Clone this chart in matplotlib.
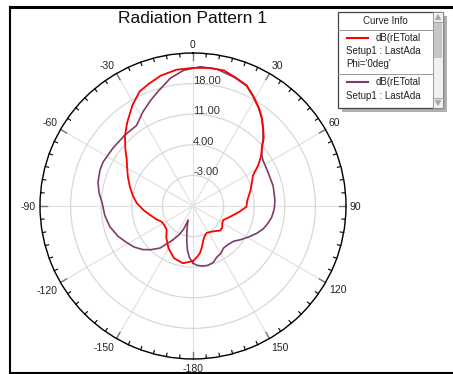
import numpy as np
import matplotlib.pyplot as plt
from matplotlib.patches import Rectangle, Polygon

plt.rcParams['font.family'] = ['Liberation Sans', 'DejaVu Sans']

# curve 1 (Phi='0deg') - angle in deg, gain in dB
red_theta = [-180, -170, -160, -150, -140, -132, -124, -117, -110, -102, -95, -87, -80, -73, -66,
             -59, -55, -50, -44, -38, -31, -25, -20, -14, -7, 0, 7, 13, 18, 24, 29, 34, 38, 42, 46,
             50, 54, 58, 63, 69, 75, 84, 91, 97, 103, 109, 115, 121, 126, 132, 138, 145, 153, 158,
             163, 168, 172, 176, 180]
red_db = [2.6, 3.3, 2.7, 1.2, -0.5, -1.9, -2.1, -2.0, -1.1, 0.0, 1.3, 2.9, 4.0, 5.1, 6.3,
          7.6, 8.5, 10.2, 12.4, 14.4, 16.9, 18.9, 19.7, 20.7, 21.4, 21.6, 21.8, 21.8, 21.0, 20.2,
          18.6, 17.0, 15.6, 14.0, 12.5, 10.6, 9.2, 7.6, 5.4, 4.4, 3.6, 2.5, 2.2, 0.7, -0.6,
          -1.6, -2.4, -2.2, -1.7, -1.6, -2.3, -2.8, -3.1, -2.7, -1.9, -0.3, 1.0, 1.8, 2.6]

# curve 2
purple_theta = [-180, -176, -173, -170, -167, -164, -161, -158, -154, -149, -142, -136, -131, -125,
                -119, -112, -104, -96, -88, -82, -76, -69, -64, -54, -44, -35, -28, -22, -17, -10,
                -4, 3, 10, 18, 24, 29, 34, 38, 42, 46, 50, 54, 57, 62, 67, 76, 86, 92, 98, 103,
                108, 113, 118, 125, 131, 138, 144, 150, 155, 160, 166, 171, 176, 180]
purple_db = [3.1, 1.8, 0.3, -1.8, -3.8, -5.3, -6.6, -4.3, -2.6, -0.9, 2.2, 3.9, 5.2, 6.4,
             7.3, 8.5, 9.6, 10.3, 10.8, 11.7, 12.4, 12.8, 12.9, 12.6, 12.5, 12.5, 14.4, 16.0, 17.4, 19.7,
             21.1, 21.9, 21.8, 20.9, 20.1, 18.5, 16.9, 15.5, 13.9, 12.3, 10.5, 9.5, 9.1, 8.9, 8.8,
             8.9, 8.8, 8.6, 8.2, 7.6, 6.9, 5.9, 4.8, 3.4, 2.3, 1.9, 1.9, 2.6, 2.9, 3.7,
             4.0, 3.9, 3.6, 3.1]

r_ticks = [-3, 4, 11, 18, 25]
r_labels = ['-3.00', '4.00', '11.00', '18.00']
theta_ticks = [0, 30, 60, 90, 120, 150, 180, 210, 240, 270, 300, 330]
theta_labels = ['0', '30', '60', '90', '120', '150', '-180', '-150', '-120', '-90', '-60', '-30']

W, H = 453, 374
fig = plt.figure(figsize=(W / 100, H / 100), dpi=100)

# overlay in pixel coords for frame, title and curve info box
ov = fig.add_axes([0, 0, 1, 1])
ov.set_xlim(0, W)
ov.set_ylim(H, 0)
ov.axis('off')
ov.plot([10, 10], [7, 373], color='black', lw=1.5)
ov.plot([10, W], [7, 7], color='black', lw=2.2)
ov.plot([10, W], [373, 373], color='black', lw=1.5)
ov.text(192, 18, 'Radiation Pattern 1', ha='center', va='center', fontsize=12.5, color='#111')

# curve info box
bx0, by0, bx1, by1 = 338, 12, 443, 108
ov.add_patch(Rectangle((bx0 + 4, by0 + 4), bx1 - bx0, by1 - by0, color='#b0b0b0', lw=0))
ov.add_patch(Rectangle((bx0, by0), bx1 - bx0, by1 - by0, facecolor='white', edgecolor='#444', lw=0.9))
ov.add_patch(Rectangle((433, by0), bx1 - 433, by1 - by0, facecolor='#f0f0f0', edgecolor='#888', lw=0.6))
ov.add_patch(Rectangle((434, 22), 8, 36, facecolor='#c6c6c6', edgecolor='none'))
ov.add_patch(Polygon([[435.5, 19.5], [440.5, 19.5], [438, 15]], color='#aaa'))
ov.add_patch(Polygon([[435.5, 100.5], [440.5, 100.5], [438, 105]], color='#aaa'))
ov.plot([433, 443], [22, 22], color='#999', lw=0.6)
ov.plot([433, 443], [98, 98], color='#999', lw=0.6)
ov.plot([bx0, 433], [29.5, 29.5], color='#999', lw=0.7)
ov.plot([bx0, 433], [73.5, 73.5], color='#999', lw=0.7)
ov.text(385, 20.5, 'Curve Info', ha='center', va='center', fontsize=7, color='#222')
ov.plot([347, 368], [37.7, 37.7], color='#ff0000', lw=1.5)
ov.text(376, 37.7, 'dB(rETotal', ha='left', va='center', fontsize=7, color='#222')
ov.text(346, 51, 'Setup1 : LastAda', ha='left', va='center', fontsize=7, color='#222')
ov.text(346, 64.3, "Phi='0deg'", ha='left', va='center', fontsize=7, color='#222')
ov.plot([347, 368], [81.7, 81.7], color='#7a3d6b', lw=1.5)
ov.text(376, 81.7, 'dB(rETotal', ha='left', va='center', fontsize=7, color='#222')
ov.text(346, 95.7, 'Setup1 : LastAda', ha='left', va='center', fontsize=7, color='#222')

# polar plot
cx, cy, R = 193, 206, 153
ax = fig.add_axes([(cx - R) / W, (H - cy - R) / H, 2 * R / W, 2 * R / H], projection='polar')
ax.set_theta_zero_location('N')
ax.set_theta_direction(-1)

ax.plot(np.deg2rad(purple_theta), purple_db, color='#7a3d6b', lw=1.2)
ax.plot(np.deg2rad(red_theta), red_db, color='#ff0000', lw=1.3)
rmin, rmax = -10, 25
ax.set_ylim(rmin, rmax)

ax.set_xticks(np.deg2rad(theta_ticks))
ax.set_xticklabels([])
ax.tick_params(axis='x', length=0)
ax.set_yticks(r_ticks)
ax.set_yticklabels([])
ax.xaxis.grid(True, color='#e2e2e2', lw=0.9)
ax.yaxis.grid(True, color='#d8d8d8', lw=0.9)
ax.spines['polar'].set_linewidth(1.0)

# inward ticks on the outer circle every 5 deg
px = (rmax - rmin) / R
for a in range(0, 360, 5):
    t = np.deg2rad(a)
    if a % 30 == 0:
        ax.plot([t, t], [rmax - 7 * px, rmax], color='#777', lw=1.0, clip_on=False)
    else:
        ax.plot([t, t], [rmax - 3.5 * px, rmax], color='black', lw=0.8, clip_on=False)

for a, lab in zip(theta_ticks, theta_labels):
    t = np.deg2rad(a)
    s, c = np.sin(t), np.cos(t)
    ha = 'left' if s > 0.3 else ('right' if s < -0.3 else 'center')
    va = 'bottom' if c > 0.3 else ('top' if c < -0.3 else 'center')
    ax.annotate(lab, xy=(t, rmax), xytext=(s * 4, c * 4 - 1), textcoords='offset pixels',
                ha=ha, va=va, fontsize=7.5, color='#222', annotation_clip=False)

for v, lab in zip(r_ticks, r_labels):
    ax.text(0, v, lab, ha='left', va='baseline', fontsize=8, color='#333')

fig.savefig('out.png', dpi=100)
